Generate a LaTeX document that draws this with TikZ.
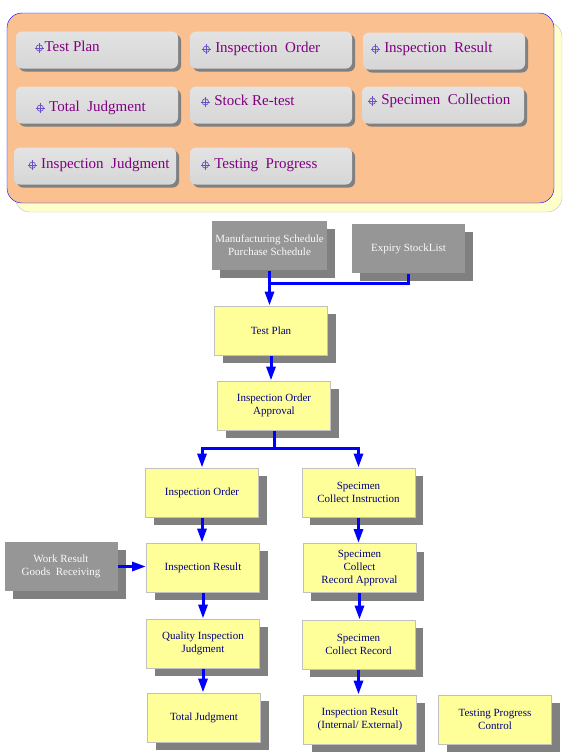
\documentclass[tikz,border=0pt]{standalone}
\usepackage{fontspec}
\setmainfont{Liberation Serif}
\newfontfamily\flowfont{Liberation Serif}
\usetikzlibrary{shadows,arrows.meta}
\definecolor{panelfill}{HTML}{FAC090}
\definecolor{panelshade}{HTML}{FFFFCC}
\definecolor{btntext}{HTML}{800080}
\definecolor{targetcol}{HTML}{6A4FC8}
\definecolor{boxfill}{HTML}{FFFF99}
\definecolor{boxline}{HTML}{C0C0C0}
\definecolor{boxtext}{HTML}{000080}
\definecolor{srcfill}{HTML}{969696}
\definecolor{shgray}{HTML}{808080}
\def\target{\tikz[baseline=-0.5ex,line width=0.7pt,color=targetcol]{
\draw (0pt,0pt) circle (3.2pt);
\draw (-4.8pt,0pt) -- (4.8pt,0pt);
\draw (0pt,-4.8pt) -- (0pt,4.8pt);}}

\begin{document}
\begin{tikzpicture}[x=1pt,y=-1pt,
  btn/.style={rounded corners=6pt, minimum width=162pt, minimum height=37pt,
    top color=gray!22, middle color=white, bottom color=gray!32, draw=none,
    general shadow={shadow xshift=3pt,shadow yshift=-3pt,fill=shgray}},
  btntxt/.style={anchor=west, inner sep=0pt, text=btntext, font=\flowfont\fontsize{15}{17}\selectfont},
  fbox/.style={rectangle, minimum width=113pt, minimum height=49pt, fill=boxfill,
    draw=boxline, line width=1pt, text=boxtext, align=center,
    font=\flowfont\fontsize{11}{13}\selectfont,
    general shadow={shadow xshift=8pt,shadow yshift=-8pt,fill=shgray}},
  gbox/.style={fbox, fill=srcfill, draw=none, text=white!95!gray},
  conn/.style={draw=blue, line width=3pt},
  arr/.style={conn, -{Triangle[width=9pt,length=14pt]}}]
  \useasboundingbox (0,0) rectangle (567,756);

  % menu panel
  \draw[fill=panelfill, draw=blue, rounded corners=15pt,
    general shadow={shadow xshift=8pt,shadow yshift=-9pt,fill=panelshade,draw=boxline}]
    (7,13) rectangle (554,203);
  \node[btn] (mplan) at (97,50) {};
  \node[btn] (morder) at (271,50) {};
  \node[btn] (mresult) at (444,51) {};
  \node[btn] (mtotal) at (97,105) {};
  \node[btn] (mstock) at (271,105) {};
  \node[btn] (mspec) at (443,105) {};
  \node[btn] (mjudge) at (95,166) {};
  \node[btn] (mprog) at (271,166) {};
  \node[btntxt] at (34,47) {\target Test Plan};
  \node[btntxt] at (201,49) {\target\ Inspection~~Order};
  \node[btntxt] at (370,49) {\target\ Inspection~~Result};
  \node[btntxt] at (35,108) {\target\ Total~~Judgment};
  \node[btntxt] at (200,101) {\target\ Stock Re-test};
  \node[btntxt] at (367,101) {\target\ Specimen~~Collection};
  \node[btntxt] at (27,165) {\target\ Inspection~~Judgment};
  \node[btntxt] at (200,165) {\target\ Testing~~Progress};

  % flow
  \node[gbox] (mfg) at (269.5,245.5) {Manufacturing Schedule\\Purchase Schedule};
  \node[gbox] (expiry) at (408.5,248.5) {Expiry StockList};
  \node[fbox] (plan) at (271,330.5) {Test Plan};
  \node[fbox] (approval) at (274,405.5) {Inspection Order\\Approval};
  \node[fbox] (order) at (202,492.5) {Inspection Order};
  \node[fbox] (instr) at (358.5,492.5) {Specimen\\Collect Instruction};
  \node[gbox] (work) at (61,566.5) {Work Result\\Goods~~Receiving};
  \node[fbox] (result) at (203,567.5) {Inspection Result};
  \node[fbox] (recappr) at (359.5,568) {Specimen\\Collect\\Record Approval};
  \node[fbox] (quality) at (203,643.5) {Quality Inspection\\Judgment};
  \node[fbox] (record) at (358.5,644.5) {Specimen\\Collect Record};
  \node[fbox] (total) at (204,717.5) {Total Judgment};
  \node[fbox] (intext) at (360,719.5) {Inspection Result\\(Internal/ External)};
  \node[fbox] (progress) at (495,719.5) {Testing Progress\\Control};

  \path (mfg.south) ++(0,13) coordinate (join);
  \path (approval.south) ++(0,18) coordinate (fork);
  \draw[conn] (expiry.south) |- (join);
  \draw[arr] (mfg.south) -- (mfg.south |- plan.north);
  \draw[arr] (plan.south) -- (plan.south |- approval.north);
  \draw[conn] (approval.south) -- (fork);
  \draw[arr] (fork) -| (order.north);
  \draw[arr] (fork) -| (instr.north);
  \draw[arr] (order.south) -- (order.south |- result.north);
  \draw[arr] (work.east) -- (work.east -| result.west);
  \draw[arr] (result.south) -- (result.south |- quality.north);
  \draw[arr] (quality.south) -- (quality.south |- total.north);
  \draw[arr] (instr.south) -- (instr.south |- recappr.north);
  \draw[arr] (recappr.south) -- (recappr.south |- record.north);
  \draw[arr] (record.south) -- (record.south |- intext.north);
\end{tikzpicture}
\end{document}
